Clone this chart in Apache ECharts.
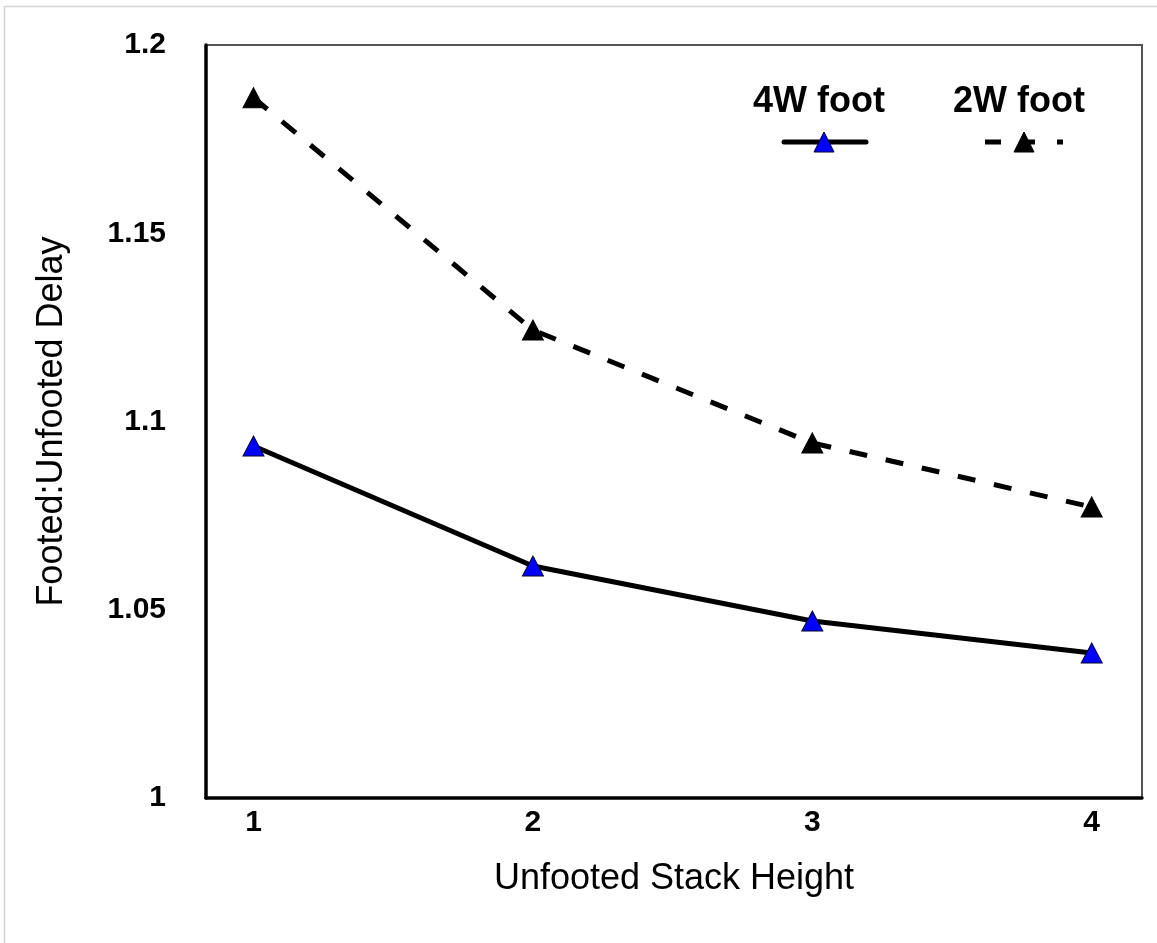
<!DOCTYPE html>
<html>
<head>
<meta charset="utf-8">
<style>
  html, body { margin: 0; padding: 0; background: #fff; }
  #chart { width: 1157px; height: 943px; }
</style>
<script src="https://cdn.jsdelivr.net/npm/echarts@6/dist/echarts.min.js"></script>
</head>
<body>
<div id="chart"></div>
<script>
// Stack heights and delay ratios
const stackHeights = [1, 2, 3, 4];
const foot4W = [1.0935, 1.0616, 1.047, 1.0385];
const foot2W = [1.186, 1.1243, 1.0943, 1.0773];
const yTicks = [1, 1.05, 1.1, 1.15, 1.2];
const seriesNames = ['4W foot', '2W foot'];

const FONT = '"Liberation Sans", Arial, sans-serif';
const chart = echarts.init(document.getElementById('chart'));

const pairs = arr => stackHeights.map((x, i) => [x, arr[i]]);

chart.setOption({
  backgroundColor: '#fff',
  animation: false,
  grid: {
    left: 206, top: 45, right: 15, bottom: 145,
    show: true, borderColor: '#555', borderWidth: 2, backgroundColor: 'transparent'
  },
  xAxis: {
    type: 'value',
    min: 0.83, max: 4.18,
    name: 'Unfooted Stack Height',
    nameLocation: 'middle',
    nameGap: 63,
    nameTextStyle: { fontFamily: FONT, fontSize: 36, color: '#000' },
    axisLine: { show: true, onZero: false, lineStyle: { color: '#000', width: 3.5 } },
    axisTick: { show: false },
    splitLine: { show: false },
    axisLabel: {
      customValues: stackHeights,
      fontFamily: FONT, fontSize: 30, fontWeight: 'bold', color: '#000', margin: 10
    }
  },
  yAxis: {
    type: 'value',
    min: 1, max: 1.2, interval: 0.05,
    name: 'Footed:Unfooted Delay',
    nameLocation: 'middle',
    nameGap: 136,
    nameTextStyle: { fontFamily: FONT, fontSize: 36, color: '#000' },
    axisLine: { show: true, lineStyle: { color: '#000', width: 3.5 } },
    axisTick: { show: false },
    splitLine: { show: false },
    axisLabel: {
      customValues: yTicks,
      formatter: v => String(+v.toFixed(2)),
      fontFamily: FONT, fontSize: 30, fontWeight: 'bold', color: '#000', margin: 40
    }
  },
  series: [
    {
      name: seriesNames[0],
      type: 'line',
      data: pairs(foot4W),
      symbol: 'triangle',
      symbolSize: [21, 20],
      itemStyle: { color: '#0000ff', borderColor: '#000033', borderWidth: 1 },
      lineStyle: { color: '#000', width: 5 },
      z: 3
    },
    {
      name: seriesNames[1],
      type: 'line',
      data: pairs(foot2W),
      symbol: 'triangle',
      symbolSize: [21, 20],
      itemStyle: { color: '#000', borderColor: '#000', borderWidth: 1 },
      lineStyle: { color: '#000', width: 5, type: [18, 19] },
      z: 3
    }
  ],
  graphic: [
    // outer frame
    { type: 'rect', shape: { x: 4.5, y: 6.5, width: 1300, height: 1100 },
      style: { fill: 'none', stroke: '#d4d4d4', lineWidth: 1.5 }, silent: true, z: -10 },
    // legend: 4W foot
    { type: 'text', left: 753, top: 84,
      style: { text: seriesNames[0], font: 'bold 36px ' + FONT, fill: '#000' } },
    { type: 'line', shape: { x1: 784, y1: 142, x2: 866, y2: 142 },
      style: { stroke: '#000', lineWidth: 5, lineCap: 'round' } },
    { type: 'polygon', shape: { points: [[824, 132], [814, 152], [834, 152]] },
      style: { fill: '#0000ff', stroke: '#000033', lineWidth: 1 } },
    // legend: 2W foot
    { type: 'text', left: 953, top: 84,
      style: { text: seriesNames[1], font: 'bold 36px ' + FONT, fill: '#000' } },
    { type: 'line', shape: { x1: 985, y1: 142, x2: 1001, y2: 142 },
      style: { stroke: '#000', lineWidth: 5 } },
    { type: 'line', shape: { x1: 1020, y1: 142, x2: 1035, y2: 142 },
      style: { stroke: '#000', lineWidth: 5 } },
    { type: 'line', shape: { x1: 1057, y1: 142, x2: 1063, y2: 142 },
      style: { stroke: '#000', lineWidth: 5 } },
    { type: 'polygon', shape: { points: [[1024, 132], [1014, 152], [1034, 152]] },
      style: { fill: '#000', stroke: '#000', lineWidth: 1 } }
  ]
});
</script>
</body>
</html>
